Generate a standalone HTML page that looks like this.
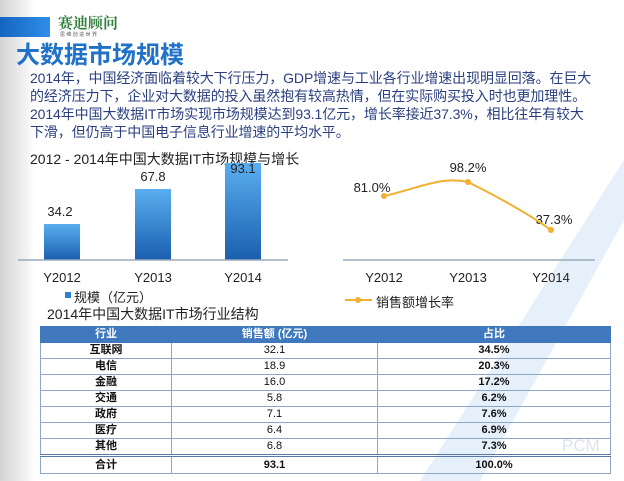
<!DOCTYPE html>
<html><head><meta charset="utf-8"><style>
body{margin:0;width:624px;height:481px;overflow:hidden;position:relative;background:#fff;font-family:"Liberation Sans","Noto Sans CJK SC",sans-serif;}
.a{position:absolute;white-space:nowrap}
table{position:absolute;left:40px;top:326px;width:571px;border-collapse:collapse;font-size:11px;color:#111}
td,th{border:1px solid #8fa6c8;height:15px;padding:0;text-align:center;line-height:15px}
th{background:#3f78bd;color:#fff;font-weight:bold;border-color:#3f78bd}
td.b{font-weight:bold}
tr.t td{border-top:3px double #5878a8;height:16px}
</style></head><body>
<div class="a" style="left:0;top:0;width:34px;height:481px;background:linear-gradient(90deg,#d4d4d4,#f4f4f4 80%,#fff)"></div>
<svg class="a" style="left:0;top:0" width="624" height="481"><polygon points="624,160 624,220 480,481 420,481" fill="#e6f0fa"/></svg>
<div class="a" style="left:0;top:17px;width:50px;height:20px;background:linear-gradient(90deg,#1565c0,#2f8ee8)"></div>
<div class="a" style="left:58px;top:14px;font-size:15px;line-height:18px;color:#2f7d3a;font-weight:bold;font-family:'Noto Serif CJK SC',serif">赛迪顾问</div>
<div class="a" style="left:60px;top:31px;font-size:5px;color:#555">思 维 创 造 世 界</div>
<div class="a" style="left:16px;top:43px;font-size:24px;line-height:26px;font-weight:bold;color:#1f72c8">大数据市场规模</div>
<div class="a" style="left:30px;top:69px;font-size:14px;line-height:18px;color:#2a3f80;letter-spacing:-0.1px">2014年，中国经济面临着较大下行压力，GDP增速与工业各行业增速出现明显回落。在巨大<br>的经济压力下，企业对大数据的投入虽然抱有较高热情，但在实际购买投入时也更加理性。<br>2014年中国大数据IT市场实现市场规模达到93.1亿元，增长率接近37.3%，相比往年有较大<br>下滑，但仍高于中国电子信息行业增速的平均水平。</div>
<div class="a" style="left:30px;top:149px;font-size:14px;color:#222">2012 - 2014年中国大数据IT市场规模与增长</div>
<svg class="a" style="left:0;top:0" width="624" height="481">
<defs><linearGradient id="g" x1="0" y1="0" x2="0" y2="1"><stop offset="0" stop-color="#5aaef0"/><stop offset="1" stop-color="#1a5fae"/></linearGradient></defs>
<rect x="44" y="224" width="36" height="36" fill="url(#g)"/>
<rect x="135" y="189" width="36" height="71" fill="url(#g)"/>
<rect x="225" y="163" width="36" height="97" fill="url(#g)"/>
<line x1="18" y1="260" x2="288" y2="260" stroke="#9ab" stroke-width="1.5"/>
<line x1="343" y1="260" x2="595" y2="260" stroke="#9ab" stroke-width="1.5"/>
<g font-size="13" fill="#222" text-anchor="middle" font-family="Liberation Sans,sans-serif">
<text x="60" y="216">34.2</text><text x="153" y="181">67.8</text><text x="243" y="173">93.1</text>
<text x="62" y="282">Y2012</text><text x="153" y="282">Y2013</text><text x="243" y="282">Y2014</text>
<text x="384" y="282">Y2012</text><text x="468" y="282">Y2013</text><text x="551" y="282">Y2014</text>
<text x="372" y="192">81.0%</text><text x="468" y="172">98.2%</text><text x="554" y="224">37.3%</text>
</g>
<path d="M384,196 C420,188 440,176 468,182 C500,198 530,215 551,230" fill="none" stroke="#f0b030" stroke-width="2"/>
<circle cx="384" cy="196" r="3" fill="#f0b030"/><circle cx="468" cy="182" r="3" fill="#f0b030"/><circle cx="551" cy="230" r="3" fill="#f0b030"/>
<rect x="65" y="292" width="6" height="6" fill="#2f7fd0"/>
<line x1="345" y1="300" x2="372" y2="300" stroke="#f0b030" stroke-width="2"/><circle cx="358" cy="300" r="3" fill="#f0b030"/>
</svg>
<div class="a" style="left:74px;top:287px;font-size:13px;color:#222">规模（亿元）</div>
<div class="a" style="left:376px;top:292px;font-size:13px;color:#222">销售额增长率</div>
<div class="a" style="left:47px;top:304px;font-size:14px;color:#222">2014年中国大数据IT市场行业结构</div>
<table>
<tr><th style="width:130px">行业</th><th style="width:205px">销售额 (亿元)</th><th>占比</th></tr>
<tr><td class="b">互联网</td><td>32.1</td><td class="b">34.5%</td></tr>
<tr><td class="b">电信</td><td>18.9</td><td class="b">20.3%</td></tr>
<tr><td class="b">金融</td><td>16.0</td><td class="b">17.2%</td></tr>
<tr><td class="b">交通</td><td>5.8</td><td class="b">6.2%</td></tr>
<tr><td class="b">政府</td><td>7.1</td><td class="b">7.6%</td></tr>
<tr><td class="b">医疗</td><td>6.4</td><td class="b">6.9%</td></tr>
<tr><td class="b">其他</td><td>6.8</td><td class="b">7.3%</td></tr>
<tr class="t"><td class="b">合计</td><td class="b">93.1</td><td class="b">100.0%</td></tr>
</table>
<div class="a" style="left:562px;top:436px;font-size:17px;color:#dde3ea">PCM</div>
</body></html>
